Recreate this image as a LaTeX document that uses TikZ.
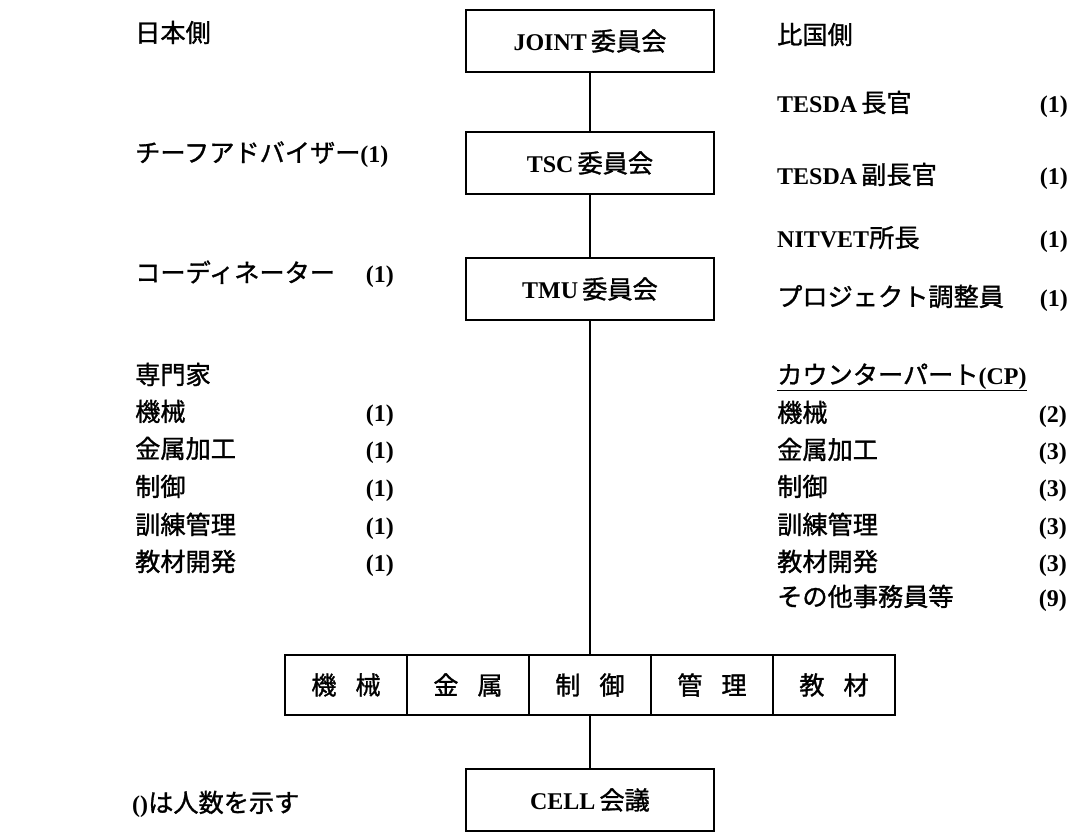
\documentclass[tikz,border=0pt]{standalone}
\usepackage{fontspec}
\setmainfont{Liberation Serif}
\newfontfamily\jp[FakeBold=1.2,Scale=1.05]{Noto Sans CJK JP}
\newcommand\J[1]{{\jp #1}}
\newcommand\B[1]{{\bfseries #1}}
\begin{document}
\begin{tikzpicture}[x=1pt,y=-1pt,
  every node/.style={font=\fontsize{24}{28}\selectfont, inner sep=0pt},
  box/.style={draw, line width=1.8pt, minimum width=248pt, minimum height=62pt},
  cellbox/.style={draw, line width=1.8pt, minimum width=122pt, minimum height=60pt},
  conn/.style={line width=2.2pt},
  lt/.style={anchor=base west},
  rt/.style={anchor=base east}]
\useasboundingbox (0,0) rectangle (1072,838);

% central boxes
\node[box] (joint) at (590,41) {\B{JOINT}\,\J{委員会}};
\node[box] (tsc) at (590,163) {\B{TSC}\,\J{委員会}};
\node[box] (tmu) at (590,289) {\B{TMU}\,\J{委員会}};

% row of cells
\node[cellbox] (kikai) at (346,685) {\J{機\hspace{0.75em}械}};
\node[cellbox] (kinzoku) at (468,685) {\J{金\hspace{0.75em}属}};
\node[cellbox] (seigyo) at (590,685) {\J{制\hspace{0.75em}御}};
\node[cellbox] (kanri) at (712,685) {\J{管\hspace{0.75em}理}};
\node[cellbox] (kyozai) at (834,685) {\J{教\hspace{0.75em}材}};

\node[box] (cell) at (590,800) {\B{CELL}\,\J{会議}};

% connectors
\draw[conn] (joint.south) -- (tsc.north);
\draw[conn] (tsc.south) -- (tmu.north);
\draw[conn] (tmu.south) -- (seigyo.north);
\draw[conn] (seigyo.south) -- (cell.north);

% left column (baselines)
\node[lt] (nihon) at (135,42) {\J{日本側}};
\node[lt] (chief) at (135,162) {\J{チーフアドバイザー}\B{(1)}};
\node[lt] (coord) at (135,282) {\J{コーディネーター}};
\node[rt] (coordn) at (394,282) {\B{(1)}};

\node[lt] (senmon) at (135,384) {\J{専門家}};
\node[lt] (lkikai) at (135,421) {\J{機械}};
\node[rt] (lkikain) at (394,421) {\B{(1)}};
\node[lt] (lkinzoku) at (135,458) {\J{金属加工}};
\node[rt] (lkinzokun) at (394,458) {\B{(1)}};
\node[lt] (lseigyo) at (135,496) {\J{制御}};
\node[rt] (lseigyon) at (394,496) {\B{(1)}};
\node[lt] (lkanri) at (135,534) {\J{訓練管理}};
\node[rt] (lkanrin) at (394,534) {\B{(1)}};
\node[lt] (lkyozai) at (135,571) {\J{教材開発}};
\node[rt] (lkyozain) at (394,571) {\B{(1)}};

% right column (baselines)
\node[lt] (hikoku) at (777,44) {\J{比国側}};
\node[lt] (tesda1) at (777,112) {\B{TESDA}\,\J{長官}};
\node[rt] (tesda1n) at (1068,112) {\B{(1)}};
\node[lt] (tesda2) at (777,184) {\B{TESDA}\,\J{副長官}};
\node[rt] (tesda2n) at (1068,184) {\B{(1)}};
\node[lt] (nitvet) at (777,247) {\B{NITVET}\J{所長}};
\node[rt] (nitvetn) at (1068,247) {\B{(1)}};
\node[lt] (proj) at (777,306) {\J{プロジェクト調整員}};
\node[rt] (projn) at (1068,306) {\B{(1)}};

\node[lt] (cp) at (777,384) {\underline{\J{カウンターパート}\B{(CP)}}};
\node[lt] (rkikai) at (777,422) {\J{機械}};
\node[rt] (rkikain) at (1067,422) {\B{(2)}};
\node[lt] (rkinzoku) at (777,459) {\J{金属加工}};
\node[rt] (rkinzokun) at (1067,459) {\B{(3)}};
\node[lt] (rseigyo) at (777,496) {\J{制御}};
\node[rt] (rseigyon) at (1067,496) {\B{(3)}};
\node[lt] (rkanri) at (777,534) {\J{訓練管理}};
\node[rt] (rkanrin) at (1067,534) {\B{(3)}};
\node[lt] (rkyozai) at (777,571) {\J{教材開発}};
\node[rt] (rkyozain) at (1067,571) {\B{(3)}};
\node[lt] (rsonota) at (777,606) {\J{その他事務員等}};
\node[rt] (rsonotan) at (1067,606) {\B{(9)}};

% footnote
\node[lt] (note) at (132,812) {\B{()}\J{は人数を示す}};
\end{tikzpicture}
\end{document}
